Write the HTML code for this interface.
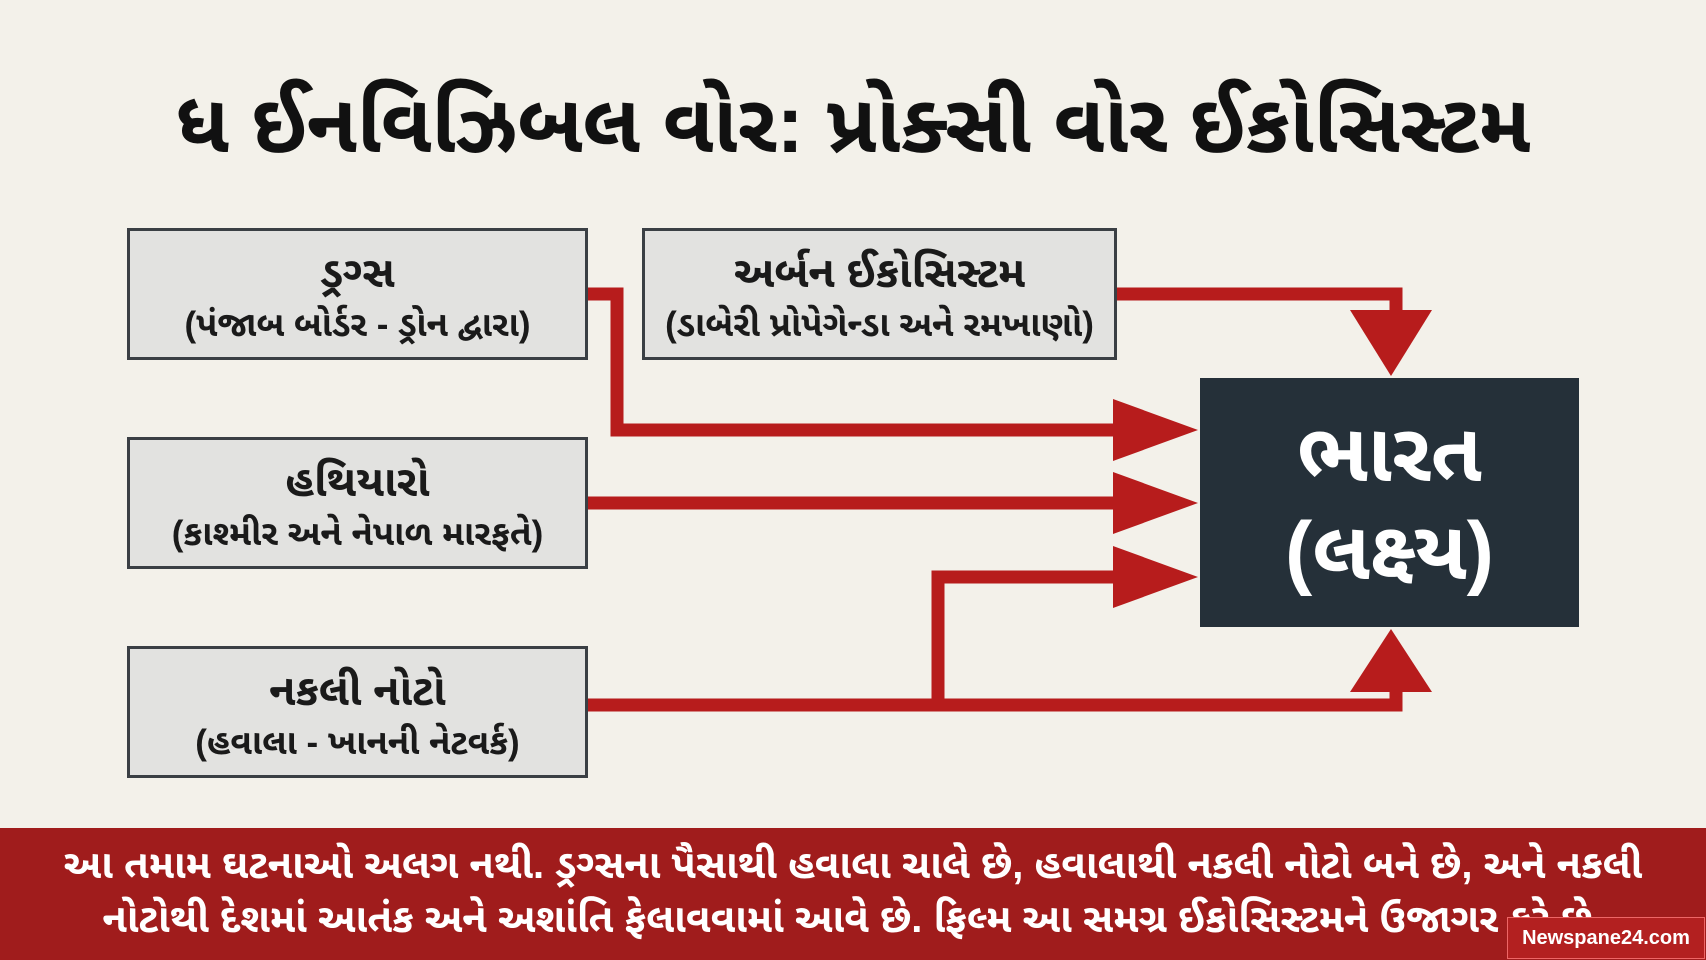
<!DOCTYPE html>
<html><head><meta charset="utf-8"><style>
body{margin:0;width:1706px;height:960px;background:#f3f1ea;position:relative;overflow:hidden;font-family:"Liberation Sans","Noto Sans Gujarati","Lohit Gujarati",sans-serif;}
.box{position:absolute;background:#e2e2e0;border:3px solid #3a3f44;box-sizing:border-box;text-align:center;color:#1a1a1a;font-weight:bold;display:flex;flex-direction:column;justify-content:center;padding-top:8px}
.t{font-size:43px;line-height:54px}
.s{font-size:35px;line-height:50px}
#title{position:absolute;left:0;width:1706px;top:76px;text-align:center;font-size:82px;font-weight:bold;color:#111;line-height:98px;white-space:nowrap}
#dark{position:absolute;left:1200px;top:378px;width:379px;height:249px;background:#253039;color:#fff;font-weight:bold;font-size:82px;line-height:98px;text-align:center;display:flex;flex-direction:column;justify-content:center}
#ban{position:absolute;left:0;top:828px;width:1706px;height:132px;background:#a01c1c;color:#fff;font-weight:bold;font-size:40px;line-height:54px;text-align:center;padding-top:10px;box-sizing:border-box;white-space:nowrap}
#wm{position:absolute;left:1507px;top:917px;width:196px;height:40px;background:#b32020;color:#fff;font-size:20px;font-weight:bold;line-height:40px;text-align:center;border:1px solid #e66}
svg{position:absolute;left:0;top:0}
</style></head><body>
<div id="title">ધ ઈનવિઝિબલ વોર: પ્રોક્સી વોર ઈકોસિસ્ટમ</div>
<svg width="1706" height="960">
<g fill="none" stroke="#b71c1c" stroke-width="13">
<polyline points="588,294 617,294 617,430 1120,430"/>
<polyline points="1117,294 1396,294 1396,315"/>
<line x1="588" y1="503" x2="1120" y2="503"/>
<polyline points="588,705 1396,705 1396,686"/>
<polyline points="938,705 938,577 1120,577"/>
</g>
<g fill="#b71c1c">
<polygon points="1113,399 1198,430 1113,461"/>
<polygon points="1113,472 1198,503 1113,534"/>
<polygon points="1113,546 1198,577 1113,608"/>
<polygon points="1350,310 1432,310 1391,376"/>
<polygon points="1350,692 1432,692 1391,629"/>
</g>
</svg>
<div class="box" style="left:127px;top:228px;width:461px;height:132px"><div class="t">ડ્રગ્સ</div><div class="s">(પંજાબ બોર્ડર - ડ્રોન દ્વારા)</div></div>
<div class="box" style="left:642px;top:228px;width:475px;height:132px"><div class="t">અર્બન ઈકોસિસ્ટમ</div><div class="s">(ડાબેરી પ્રોપેગેન્ડા અને રમખાણો)</div></div>
<div class="box" style="left:127px;top:437px;width:461px;height:132px"><div class="t">હથિયારો</div><div class="s">(કાશ્મીર અને નેપાળ મારફતે)</div></div>
<div class="box" style="left:127px;top:646px;width:461px;height:132px"><div class="t">નકલી નોટો</div><div class="s">(હવાલા - ખાનની નેટવર્ક)</div></div>
<div id="dark"><div>ભારત</div><div>(લક્ષ્ય)</div></div>
<div id="ban">આ તમામ ઘટનાઓ અલગ નથી. ડ્રગ્સના પૈસાથી હવાલા ચાલે છે, હવાલાથી નકલી નોટો બને છે, અને નકલી<br>નોટોથી દેશમાં આતંક અને અશાંતિ ફેલાવવામાં આવે છે. ફિલ્મ આ સમગ્ર ઈકોસિસ્ટમને ઉજાગર કરે છે.</div>
<div id="wm">Newspane24.com</div>
</body></html>
